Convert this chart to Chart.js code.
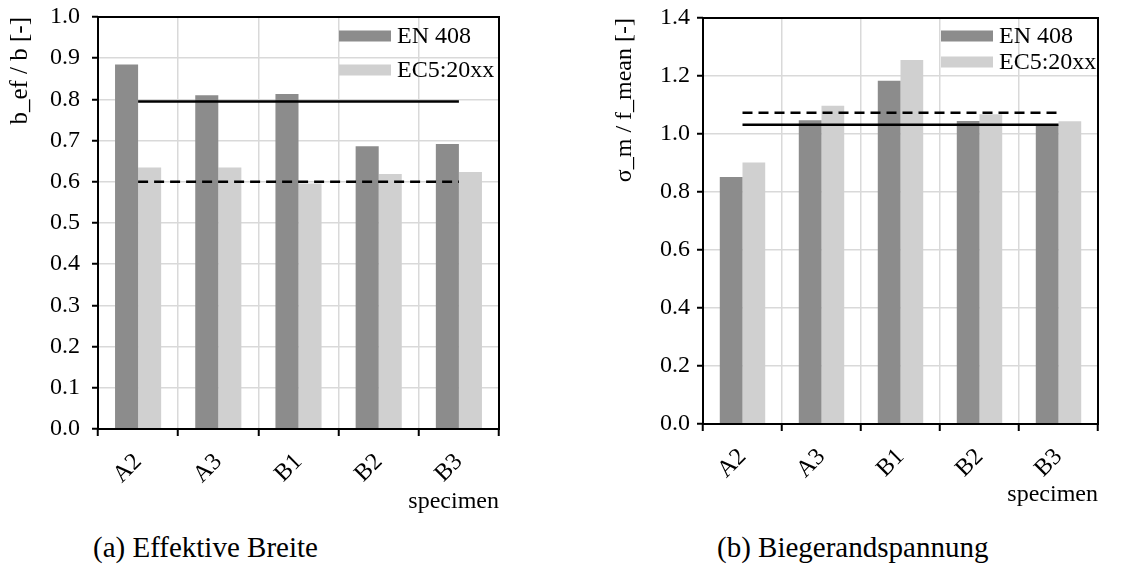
<!DOCTYPE html>
<html>
<head>
<meta charset="utf-8">
<script src="https://cdn.jsdelivr.net/npm/chart.js@4.4.0/dist/chart.umd.min.js"></script>
<style>
  body { margin: 0; background: #fff; width: 1143px; height: 570px; position: relative; overflow: hidden; font-family: 'Liberation Serif', serif; }
  .box { position: absolute; top: 0; }
  .cap { position: absolute; top: 531px; font-size: 29px; color: #000; white-space: nowrap; }
</style>
</head>
<body>
<div class="box" style="left:0;width:560px;height:530px"><canvas id="chartA"></canvas></div>
<div class="box" style="left:575px;width:568px;height:530px"><canvas id="chartB"></canvas></div>
<div class="cap" style="left:93px">(a) Effektive Breite</div>
<div class="cap" style="left:717px">(b) Biegerandspannung</div>
<script>
// categories
const specimens = ['A2', 'A3', 'B1', 'B2', 'B3'];

// (a) effective width b_ef / b
const widthEN408 = [0.885, 0.810, 0.813, 0.686, 0.692];
const widthEC5 = [0.635, 0.635, 0.596, 0.619, 0.624];
const widthMeanSolid = [0.795, 0.795, 0.795, 0.795, 0.795];
const widthMeanDashed = [0.600, 0.600, 0.600, 0.600, 0.600];

// (b) bending stress sigma_m / f_mean
const stressEN408 = [0.852, 1.047, 1.184, 1.045, 1.030];
const stressEC5 = [0.902, 1.097, 1.255, 1.068, 1.044];
const stressMeanSolid = [1.032, 1.032, 1.032, 1.032, 1.032];
const stressMeanDashed = [1.073, 1.073, 1.073, 1.073, 1.073];

const FONT = "'Liberation Serif', serif";
Chart.defaults.font.family = FONT;
Chart.defaults.color = '#000';

const DARK = '#8c8c8c';
const LIGHT = '#d0d0d0';
const GRID = '#d9d9d9';

// black frame around the plot area + legend inside it
const framePlugin = {
  id: 'frameLegend',
  afterDatasetsDraw(chart, args, opts) {
    const ctx = chart.ctx;
    const a = chart.chartArea;
    ctx.save();
    ctx.strokeStyle = '#000';
    ctx.lineWidth = 2;
    ctx.strokeRect(a.left, a.top, a.right - a.left, a.bottom - a.top);

    ctx.font = '24px ' + FONT;
    ctx.textBaseline = 'middle';
    ctx.textAlign = 'left';
    let i = 0;
    chart.data.datasets.forEach(ds => {
      if (ds.type !== 'bar') return;
      const x = a.right - opts.right;
      const y = a.top + opts.top + i * opts.gap;
      ctx.fillStyle = ds.backgroundColor;
      ctx.fillRect(x, y - 5.5, 52, 11);
      ctx.fillStyle = '#000';
      ctx.fillText(ds.label, x + 58, y + 1);
      i++;
    });
    ctx.restore();
  }
};

function makeChart(id, s) {
  const ctx = document.getElementById(id).getContext('2d');
  return new Chart(ctx, {
    type: 'bar',
    data: {
      labels: specimens,
      datasets: [
        { type: 'line', label: 'solid', data: s.solid, borderColor: '#000', borderWidth: 2.5, pointRadius: 0, fill: false, order: 0 },
        { type: 'line', label: 'dashed', data: s.dashed, borderColor: '#000', borderWidth: 2.5, borderDash: [10, 6], pointRadius: 0, fill: false, order: 0 },
        { type: 'bar', label: 'EN 408', data: s.en, backgroundColor: DARK, barPercentage: 1, categoryPercentage: 0.575, order: 1 },
        { type: 'bar', label: 'EC5:20xx', data: s.ec, backgroundColor: LIGHT, barPercentage: 1, categoryPercentage: 0.575, order: 1 }
      ]
    },
    options: {
      responsive: true,
      maintainAspectRatio: false,
      animation: false,
      layout: { padding: { top: s.top, right: s.right, left: 0, bottom: 0 } },
      plugins: {
        legend: { display: false },
        tooltip: { enabled: false },
        frameLegend: s.legend
      },
      scales: {
        x: {
          grid: { color: GRID, lineWidth: 1.5, tickColor: '#000', tickLength: 7, tickWidth: 2, offset: true },
          border: { display: false },
          ticks: { minRotation: 45, maxRotation: 45, padding: 12, font: { size: 24 } },
          title: { display: true, text: 'specimen', align: 'end', font: { size: 24 }, padding: { top: 0, bottom: s.xTitlePad } },
          afterFit(scale) {
            scale.height = s.xHeight;
            scale.paddingLeft = 0;
            scale.paddingRight = 0;
          }
        },
        y: {
          min: 0,
          max: s.max,
          grid: { color: GRID, lineWidth: 1.5, tickColor: '#000', tickLength: 6, tickWidth: 2 },
          border: { display: false },
          ticks: { stepSize: s.step, padding: s.yTickPad, font: { size: 24 }, callback: v => v.toFixed(1) },
          title: { display: true, text: s.yTitle, align: 'end', font: { size: s.yTitleSize }, padding: { top: s.yTitlePad, bottom: 0 } },
          afterFit(scale) {
            scale.width = s.yWidth;
            scale.paddingTop = 0;
            scale.paddingBottom = 0;
          }
        }
      }
    },
    plugins: [framePlugin]
  });
}

makeChart('chartA', {
  en: widthEN408, ec: widthEC5, solid: widthMeanSolid, dashed: widthMeanDashed,
  max: 1.0, step: 0.1, yTitle: 'b_ef / b [-]', yTitleSize: 25,
  top: 17, right: 61, yWidth: 98, xHeight: 101, yTitlePad: 5, yTickPad: 12, xTitlePad: 14,
  legend: { right: 160, top: 19, gap: 34 }
});

makeChart('chartB', {
  en: stressEN408, ec: stressEC5, solid: stressMeanSolid, dashed: stressMeanDashed,
  max: 1.4, step: 0.2, yTitle: 'σ_m / f_mean [-]', yTitleSize: 24,
  top: 18, right: 45, yWidth: 128, xHeight: 106, yTitlePad: 35, yTickPad: 7, xTitlePad: 21,
  legend: { right: 157, top: 18, gap: 26 }
});
</script>
</body>
</html>
